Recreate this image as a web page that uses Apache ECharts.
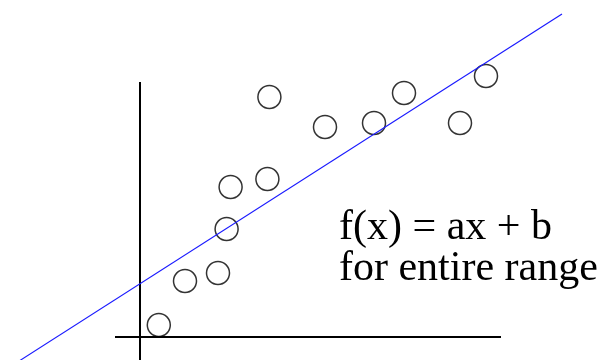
<!DOCTYPE html>
<html>
<head>
<meta charset="utf-8">
<script src="https://cdn.jsdelivr.net/npm/echarts@6/dist/echarts.min.js"></script>
<style>
html, body { margin: 0; padding: 0; background: #fff; }
#graphContainer { width: 609px; height: 360px; }
</style>
</head>
<body>
<div id="graphContainer"></div>
<script>
// data units: origin at the axes crossing, 1 unit = 20px
var pointsX = [0.94, 2.25, 3.9, 4.33, 4.53, 6.37, 6.47, 9.25, 11.7, 13.2, 16.0, 17.3];
var pointsY = [0.6, 2.8, 3.2, 5.4, 7.5, 7.9, 12.0, 10.5, 10.7, 12.2, 10.7, 13.05];
var fitLine = [[-6.0, -1.17], [21.1, 16.15]];
var xAxisLine = [[-1.25, 0], [18.05, 0]];
var yAxisLine = [[0, -1.2], [0, 12.75]];
var labelLines = ['f(x) = ax + b', 'for entire range'];

var scatterData = [];
for (var i = 0; i < pointsX.length; i++) {
	scatterData.push([pointsX[i], pointsY[i]]);
}

var dom = document.getElementById('graphContainer');
var myEChart = echarts.init(dom, null, { renderer: 'canvas' });

var option = {
	animation: false,
	backgroundColor: '#ffffff',
	grid: { left: 0, right: 0, top: 0, bottom: 0 },
	xAxis: { type: 'value', min: -7, max: 23.45, show: false },
	yAxis: { type: 'value', min: -1.15, max: 16.85, show: false },
	graphic: [
		{
			type: 'text',
			left: 339,
			top: 207,
			style: {
				text: labelLines.join('\n'),
				font: '42px "Liberation Serif", "Times New Roman", serif',
				lineHeight: 41,
				fill: '#000'
			}
		}
	],
	series: [
		{
			type: 'line',
			data: xAxisLine,
			symbol: 'none',
			silent: true,
			lineStyle: { color: '#000', width: 2 }
		},
		{
			type: 'line',
			data: yAxisLine,
			symbol: 'none',
			silent: true,
			lineStyle: { color: '#000', width: 2 }
		},
		{
			type: 'line',
			data: fitLine,
			symbol: 'none',
			silent: true,
			lineStyle: { color: '#1a1aff', width: 1.2 }
		},
		{
			type: 'scatter',
			data: scatterData,
			symbol: 'circle',
			symbolSize: 23,
			itemStyle: { color: 'none', borderColor: '#000', borderWidth: 1.5 }
		}
	]
};
myEChart.setOption(option);
window.addEventListener('resize', myEChart.resize);
</script>
</body>
</html>
